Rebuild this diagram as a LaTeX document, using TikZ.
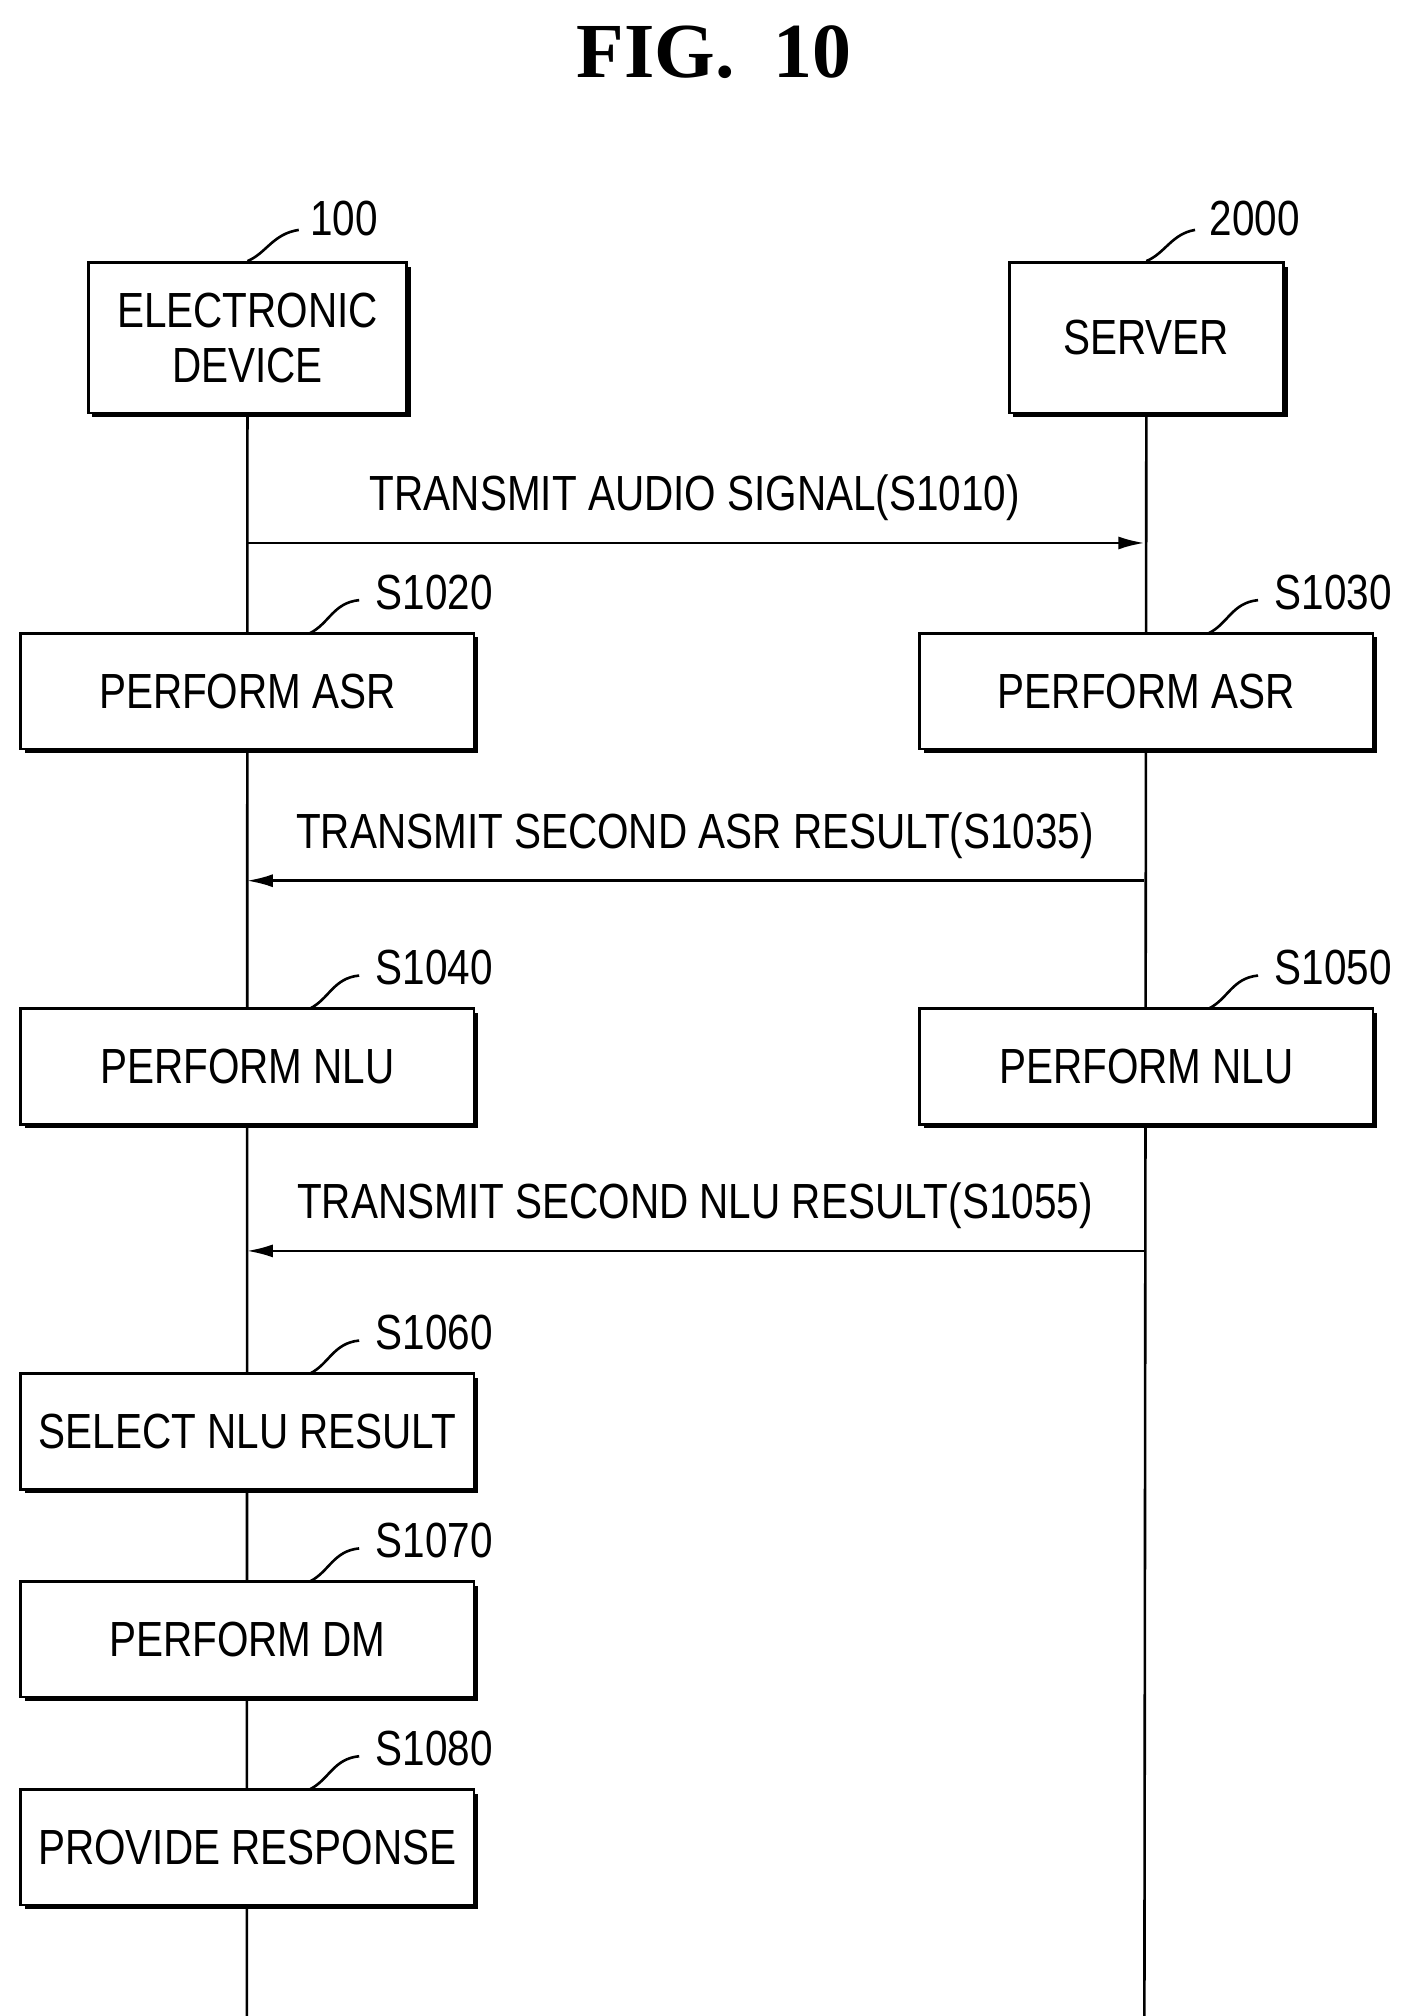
\documentclass[tikz,border=0pt]{standalone}
\usepackage{fontspec}
\setmainfont{Liberation Sans}[FakeStretch=0.82]
\newfontfamily\titlefont{Liberation Serif}
\usetikzlibrary{shadows,arrows.meta,calc}
\begin{document}
\begin{tikzpicture}[x=0.5pt,y=-0.5pt,
  box/.style={draw,line width=1pt,fill=white,inner sep=0pt,font=\fontsize{19}{21}\selectfont,align=center,
    drop shadow={shadow xshift=1.6pt,shadow yshift=-1.6pt,opacity=1,fill=black}},
  lbl/.style={font=\fontsize{19}{21}\selectfont},
  lead/.style={line width=1pt},
  life/.style={line width=1pt},
  msg/.style={line width=1pt,-{Latex[length=10pt,width=5pt]}}]
\useasboundingbox (0,0) rectangle (1080,1552);
\node[font=\titlefont\bfseries\fontsize{30}{32}\selectfont] (title) at (550,40) {FIG.\ \ 10};
% actors
\node[box,minimum width=122.5pt,minimum height=58pt] (ed) at (190.5,260) {ELECTRONIC\\DEVICE};
\node[box,minimum width=105.5pt,minimum height=58pt] (sv) at (882.5,260) {SERVER};
\node[lbl] (l100) at (265,168) {100};
\node[lbl] (l2000) at (966,168) {2000};
\draw[lead] (ed.north) .. controls (205,195) and (210,180) .. (230,177);
\draw[lead] (sv.north) .. controls (897,195) and (902,180) .. (920,177);
% lifelines
\coordinate (e0) at (190,1552); \coordinate (s0) at (881,1552);
\coordinate (e1) at (190,418); \coordinate (s1) at (881,418);
\coordinate (e2) at (190,678); \coordinate (s2) at (881,678);
\coordinate (e3) at (190,963); \coordinate (s3) at (881,963);
\draw[life] (ed.south) -- (e0);
\draw[life] (sv.south) -- (s0);
% messages
\draw[msg] (e1) -- (s1);
\node[lbl] (m1) at (535,383) {TRANSMIT AUDIO SIGNAL(S1010)};
\draw[msg] (s2) -- (e2);
\node[lbl] (m2) at (535,643) {TRANSMIT SECOND ASR RESULT(S1035)};
\draw[msg] (s3) -- (e3);
\node[lbl] (m3) at (535,928) {TRANSMIT SECOND NLU RESULT(S1055)};
% step boxes
\foreach \n/\x/\y/\t/\s in {a/190.5/532/PERFORM ASR/S1020, b/882.5/532/PERFORM ASR/S1030,
  c/190.5/821/PERFORM NLU/S1040, d/882.5/821/PERFORM NLU/S1050,
  e/190.5/1102/SELECT NLU RESULT/S1060, f/190.5/1262/PERFORM DM/S1070,
  g/190.5/1422/PROVIDE RESPONSE/S1080}{
  \node[box,minimum width=174.5pt,minimum height=44.5pt] (\n) at (\x,\y) {\t};
  \node[lbl] (\n l) at ($(\x,\y)+(144,-76)$) {\s};
  \draw[lead] ($(\x,\y)+(48,-44.5)$) .. controls ($(\x,\y)+(63,-52)$) and ($(\x,\y)+(66,-68)$) .. ($(\x,\y)+(86,-70)$);
}
\end{tikzpicture}
\end{document}
